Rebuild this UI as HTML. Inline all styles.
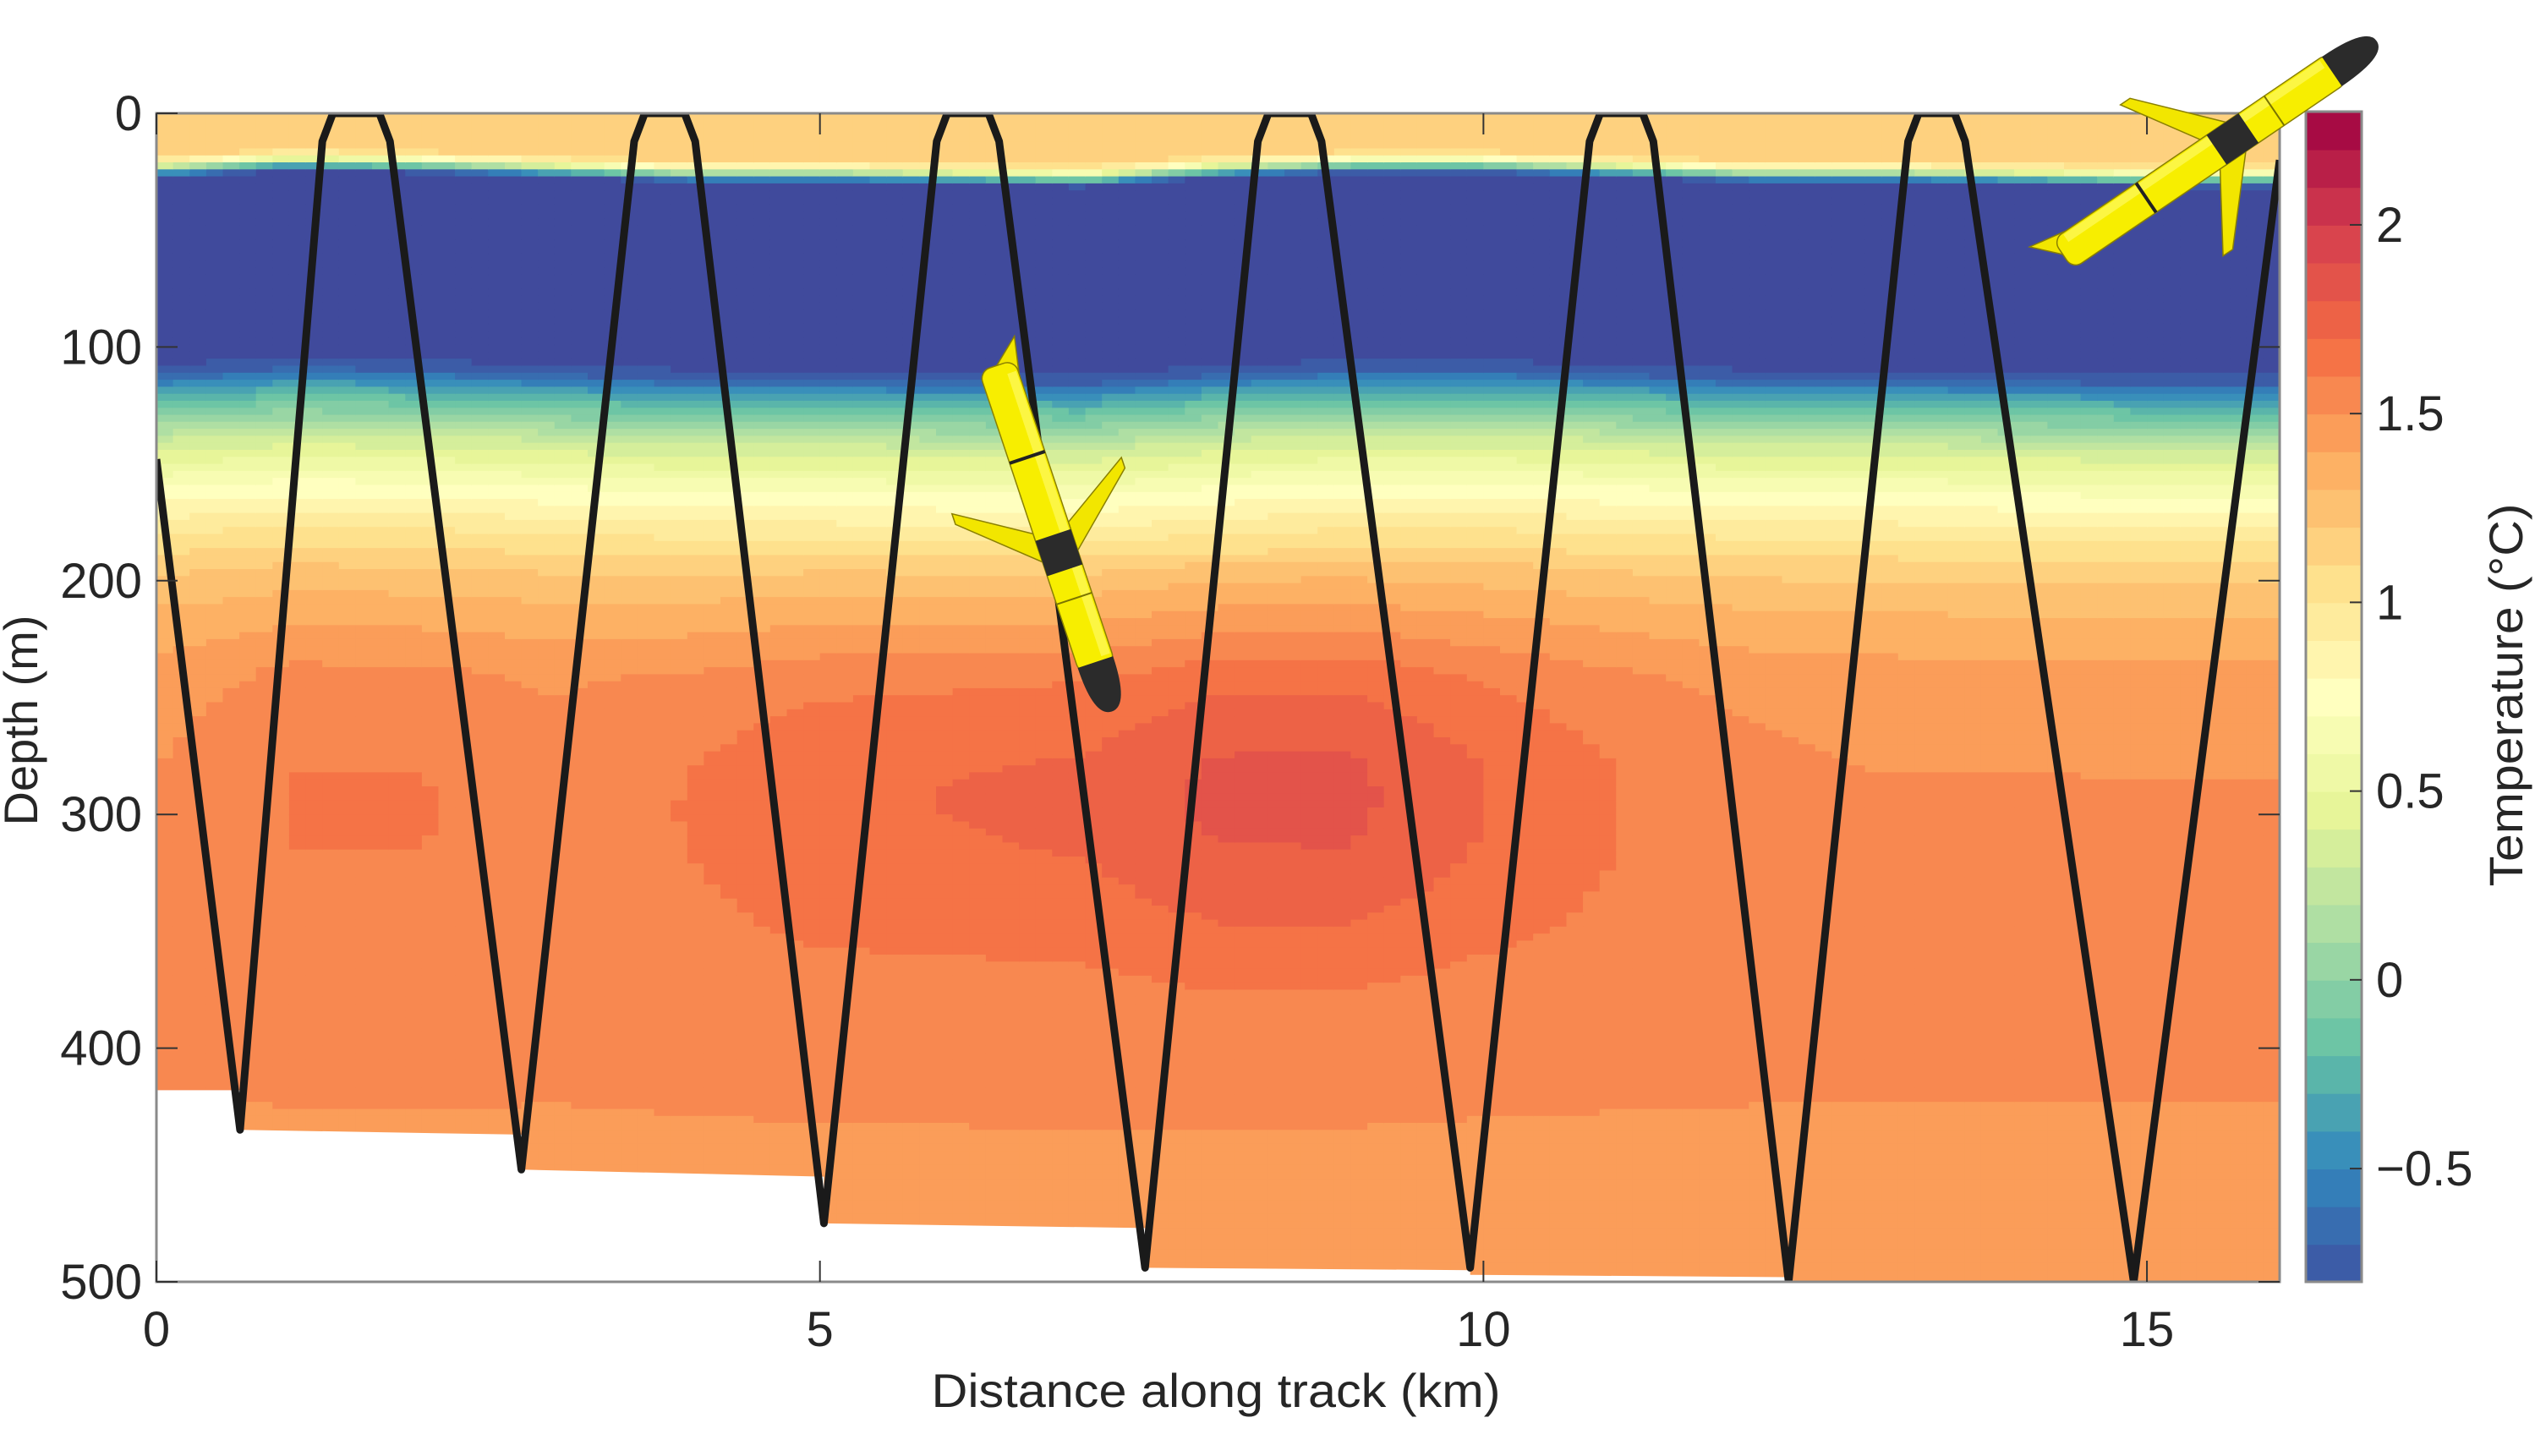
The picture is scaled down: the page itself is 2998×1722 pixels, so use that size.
<!DOCTYPE html>
<html><head><meta charset="utf-8"><style>
html,body{margin:0;padding:0;background:#fff}
svg{display:block;font-family:"Liberation Sans",Arial,sans-serif}
</style></head><body>
<svg id="chart" width="2998" height="1722" viewBox="0 0 2998 1722" xmlns="http://www.w3.org/2000/svg">
<defs><clipPath id="plotclip"><rect x="185" y="134" width="2511" height="1382"/></clipPath></defs>
<g id="field" clip-path="url(#plotclip)"></g>
<g id="mask" clip-path="url(#plotclip)"></g>
<g id="track" clip-path="url(#plotclip)"></g>
<g id="axes"></g>
<g id="cbar"></g>
<g id="gliders"></g>
</svg>
<script>
// ---- data ----
const profileDepths = [0, 18, 21, 24, 28, 60, 105, 112, 118, 125, 132, 140, 150, 160, 170, 180, 190, 200, 215, 240, 280, 350, 420, 500];
const profileTemps  = [1.12, 1.12, 0.8, 0.0, -0.95, -0.95, -0.95, -0.7, -0.4, -0.15, 0.05, 0.3, 0.5, 0.7, 0.85, 1.0, 1.12, 1.22, 1.32, 1.45, 1.5, 1.52, 1.5, 1.46];
const anomalyKm      = [0, 1, 2, 3, 4, 5, 6, 7, 8, 9, 10, 11, 12, 13, 14, 15, 16];
const anomalyWarm    = [0.0, 0.1, 0.1, 0.05, 0.1, 0.18, 0.2, 0.22, 0.32, 0.32, 0.2, 0.1, 0.03, 0.0, 0.0, 0.0, 0.0];
const thermoShift    = [0, -3, -2, 0, 2, 2, 3, 4, 0, -2, -2, 0, 2, 2, 3, 4, 4];
const bottomKm       = [0, 0.63, 0.63, 2.75, 2.75, 5.03, 5.03, 7.45, 7.45, 9.9, 9.9, 12.3, 12.3, 16];
const bottomDepth    = [418, 418, 435, 437, 452, 455, 475, 477, 494, 495, 497, 498, 500, 500];
const trackKm    = [0, 0.63, 1.25, 1.33, 1.68, 1.76, 2.75, 3.6, 3.68, 3.98, 4.06, 5.03, 5.88, 5.96, 6.27, 6.35, 7.45, 8.3, 8.38, 8.7, 8.78, 9.9, 10.8, 10.88, 11.2, 11.28, 12.3, 13.2, 13.28, 13.55, 13.63, 14.9, 16];
const trackDepth = [148, 435, 12, 0, 0, 12, 452, 12, 0, 0, 12, 475, 12, 0, 0, 12, 494, 12, 0, 0, 12, 494, 12, 0, 0, 12, 500, 12, 0, 0, 12, 500, 20];
const xTicks = [0, 5, 10, 15];
const yTicks = [0, 100, 200, 300, 400, 500];
const cTicks = [-0.5, 0, 0.5, 1, 1.5, 2];

// ---- scales ----
const X0=185, X1=2696, Y0=134, Y1=1516, XMAX=16, YMAX=500;
const xs = k => X0 + k/XMAX*(X1-X0);
const ys = d => Y0 + d/YMAX*(Y1-Y0);
const CMIN=-0.8, CMAX=2.3, CB0=132, CB1=1516, CBX=2727, CBW=66;
const cs = t => CB1 - (t-CMIN)/(CMAX-CMIN)*(CB1-CB0);
const NS="http://www.w3.org/2000/svg";
function mk(tag, attrs, parent){const e=document.createElementNS(NS,tag);for(const k in attrs)e.setAttribute(k,attrs[k]);parent.appendChild(e);return e;}
function interp(xa, ya, x){if(x<=xa[0])return ya[0];for(let i=1;i<xa.length;i++){if(x<=xa[i]){const f=(x-xa[i-1])/(xa[i]-xa[i-1]||1);return ya[i-1]+f*(ya[i]-ya[i-1]);}}return ya[ya.length-1];}
const anchors=[[0,[158,1,66]],[0.1,[213,62,79]],[0.2,[244,109,67]],[0.3,[253,174,97]],[0.4,[254,224,139]],[0.5,[255,255,191]],[0.6,[230,245,152]],[0.7,[171,221,164]],[0.8,[102,194,165]],[0.9,[50,136,189]],[1,[62,84,163]]];
function color(T){
  if(T < CMIN-0.05) return 'rgb(64,74,156)';
  T=Math.max(CMIN,Math.min(CMAX-0.001,T));
  const lvl=Math.floor((T-CMIN)/0.1)*0.1+CMIN+0.05;
  const t=(CMAX-lvl)/(CMAX-CMIN);
  for(let i=1;i<anchors.length;i++){if(t<=anchors[i][0]){const a=anchors[i-1],b=anchors[i];const f=(t-a[0])/(b[0]-a[0]);return 'rgb('+a[1].map((v,j)=>Math.round(v+f*(b[1][j]-v))).join(',')+')';}}
  return 'rgb(62,84,163)';
}
// ---- field ----
const field=document.getElementById('field');
const DX=0.125, DZ=3;
for(let k=0;k<XMAX;k+=DX){
  const kc=k+DX/2;
  const sh=interp(anomalyKm,thermoShift,kc);
  const warm=interp(anomalyKm,anomalyWarm,kc);
  for(let d=0;d<YMAX;d+=DZ){
    const dc=d+DZ/2;
    let T=interp(profileDepths,profileTemps,dc-sh);
    if(dc>190){const w=Math.exp(-Math.pow((dc-290)/75,2));T+=warm*w;}
    const r=mk('rect',{x:xs(k).toFixed(1),y:ys(d).toFixed(1),width:(xs(DX)-X0+1).toFixed(1),height:(ys(DZ)-Y0+1).toFixed(1),fill:color(T)},field);
    
    
  }
}
// ---- mask ----
let mp='M'+xs(0)+','+ys(YMAX+5);
for(let i=0;i<bottomKm.length;i++) mp+=' L'+xs(bottomKm[i]).toFixed(1)+','+ys(bottomDepth[i]).toFixed(1);
mp+=' L'+xs(XMAX)+','+ys(YMAX+5)+' Z';
const m=mk('path',{d:mp,fill:'#fff'},document.getElementById('mask'));


// ---- track ----
const tp=trackKm.map((k,i)=>xs(k).toFixed(1)+','+ys(trackDepth[i]).toFixed(1)).join(' ');
const tl=mk('polyline',{points:tp,fill:'none',stroke:'#1a1a1a','stroke-width':9,'stroke-linejoin':'round'},document.getElementById('track'));


// ---- axes ----
const ax=document.getElementById('axes');
mk('rect',{x:X0,y:Y0,width:X1-X0,height:Y1-Y0,fill:'none',stroke:'#8a8a8a','stroke-width':3},ax);
xTicks.forEach(v=>{
  mk('line',{x1:xs(v),x2:xs(v),y1:Y1,y2:Y1-25,stroke:'#333','stroke-width':2},ax);
  mk('line',{x1:xs(v),x2:xs(v),y1:Y0,y2:Y0+25,stroke:'#333','stroke-width':2},ax);
  const t=mk('text',{x:xs(v),y:1592,'font-size':58,'text-anchor':'middle',fill:'#262626'},ax);t.textContent=v;
  
  
});
yTicks.forEach(v=>{
  mk('line',{x1:X0,x2:X0+25,y1:ys(v),y2:ys(v),stroke:'#333','stroke-width':2},ax);
  mk('line',{x1:X1,x2:X1-25,y1:ys(v),y2:ys(v),stroke:'#333','stroke-width':2},ax);
  const t=mk('text',{x:168,y:ys(v)+20,'font-size':58,'text-anchor':'end',fill:'#262626'},ax);t.textContent=v;
  
  
});
let xt=mk('text',{x:1438,y:1664,'font-size':56,'text-anchor':'middle',fill:'#262626',textLength:673,lengthAdjust:'spacingAndGlyphs'},ax);xt.textContent='Distance along track (km)';


let yt=mk('text',{x:0,y:0,'font-size':56,'text-anchor':'middle',fill:'#262626',transform:'translate(44,852) rotate(-90)'},ax);yt.textContent='Depth (m)';


// ---- colorbar ----
const cb=document.getElementById('cbar');
for(let t=CMIN;t<CMAX-0.01;t+=0.1){
  const r=mk('rect',{x:CBX,y:cs(t+0.1).toFixed(1),width:CBW,height:(cs(t)-cs(t+0.1)+1).toFixed(1),fill:color(t+0.05)},cb);
  
  
}
mk('rect',{x:CBX,y:CB0,width:CBW,height:CB1-CB0,fill:'none',stroke:'#8a8a8a','stroke-width':3},cb);
cTicks.forEach(v=>{
  mk('line',{x1:CBX+CBW,x2:CBX+CBW-14,y1:cs(v),y2:cs(v),stroke:'#333','stroke-width':2},cb);
  const t=mk('text',{x:2810,y:cs(v)+20,'font-size':58,fill:'#262626'},cb);t.textContent=(v<0?'\u2212':'')+Math.abs(v);
  
  
});
let ct=mk('text',{x:0,y:0,'font-size':56,'text-anchor':'middle',fill:'#262626',textLength:453,lengthAdjust:'spacingAndGlyphs',transform:'translate(2983,822) rotate(-90)'},cb);ct.textContent='Temperature (\u00B0C)';


// ---- gliders ----
function glider(x,y,ang,L,W,name){
  const g=mk('g',{transform:`translate(${x},${y}) rotate(${ang})`},document.getElementById('gliders'));
  
  
  const h=W/2;
  mk('polygon',{points:`${0.48*L},${-h} ${0.36*L},${-h-0.19*L} ${0.39*L},${-h-0.19*L} ${0.56*L},${-h}`,fill:'#f2e600',stroke:'#8a8000','stroke-width':1.5},g);
  mk('polygon',{points:`${0.48*L},${h} ${0.36*L},${h+0.19*L} ${0.39*L},${h+0.19*L} ${0.56*L},${h}`,fill:'#f2e600',stroke:'#8a8000','stroke-width':1.5},g);
  mk('polygon',{points:`${0.02*L},0 ${-0.04*L},${-h*1.4} ${0.06*L},${-h*1.0} ${0.1*L},0`,fill:'#f2e600',stroke:'#8a8000','stroke-width':1.5},g);
  mk('rect',{x:0.02*L,y:-h,width:0.86*L,height:W,rx:h*0.6,fill:'#f7ee00',stroke:'#8a8000','stroke-width':1.5},g);
  mk('rect',{x:0.05*L,y:-h*0.9,width:0.8*L,height:h*0.5,fill:'#fffb70',opacity:0.6},g);
  mk('rect',{x:0.5*L,y:-h,width:0.1*L,height:W,fill:'#2b2b2b'},g);
  mk('line',{x1:0.28*L,x2:0.28*L,y1:-h,y2:h,stroke:'#222','stroke-width':4},g);
  mk('line',{x1:0.68*L,x2:0.68*L,y1:-h,y2:h,stroke:'#7a7400','stroke-width':2},g);
  mk('path',{d:`M${0.86*L},${-h} Q${1.0*L},${-h} ${1.0*L},0 Q${1.0*L},${h} ${0.86*L},${h} Z`,fill:'#2b2b2b'},g);
}
glider(1176,424,71.6,440,44,'glider-center');
glider(2432,306,-34.2,458,42,'glider-top-right');
</script>
</body></html>
